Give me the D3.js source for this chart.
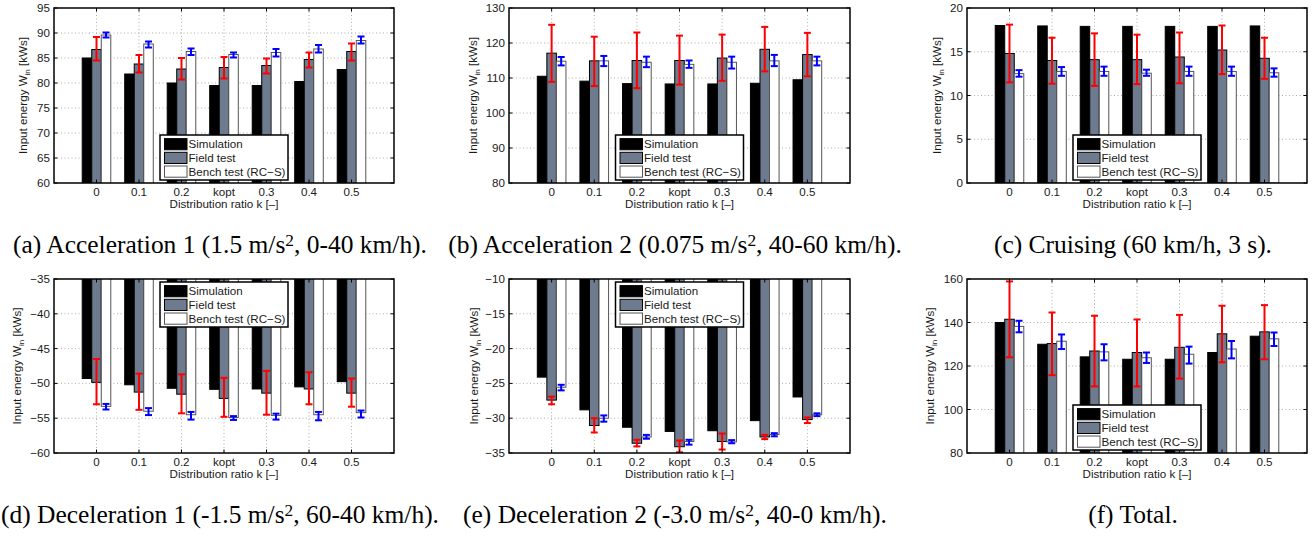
<!DOCTYPE html>
<html><head><meta charset="utf-8">
<script src="https://cdn.jsdelivr.net/npm/d3@7"></script>
<style>body{margin:0;background:#fff;} svg{display:block;}</style>
</head><body>
<svg id="chart" width="1316" height="537"></svg>
<script>
// ---------------- DATA ----------------
const categories = ["0","0.1","0.2","kopt","0.3","0.4","0.5"];
const seriesNames = ["Simulation","Field test","Bench test (RC\u2212S)"];

// (a) Acceleration 1
const simA = [85.0,81.8,80.0,79.5,79.5,80.3,82.7];
const fieldA = [86.7,83.8,82.8,83.1,83.5,84.7,86.3];
const fieldLoA = [84.5,82.1,80.7,80.9,81.9,83.1,84.5];
const fieldHiA = [89.2,85.6,85.0,85.2,84.9,86.1,87.9];
const benchA = [89.6,87.8,86.3,85.7,86.1,86.8,88.5];
const benchLoA = [89.1,87.1,85.6,85.1,85.3,86.1,87.9];
const benchHiA = [90.1,88.3,86.9,86.1,86.8,87.6,89.3];
const ticksA = [60,65,70,75,80,85,90,95];

// (b) Acceleration 2
const simB = [110.5,109.1,108.4,108.3,108.3,108.5,109.5];
const fieldB = [117.1,114.9,115.0,115.0,115.7,118.2,116.7];
const fieldLoB = [108.9,107.7,107.1,108.1,109.2,111.9,110.5];
const fieldHiB = [125.2,121.8,123.0,122.1,122.4,124.6,122.9];
const benchB = [114.8,114.9,114.5,113.9,114.5,114.9,114.9];
const benchLoB = [113.6,113.4,113.1,112.9,112.7,113.4,113.6];
const benchHiB = [116.0,116.3,116.1,115.0,116.1,116.6,116.1];
const ticksB = [80,90,100,110,120,130];

// (c) Cruising
const simC = [18.0,17.95,17.9,17.9,17.9,17.9,17.95];
const fieldC = [14.8,14.0,14.1,14.1,14.4,15.2,14.25];
const fieldLoC = [11.5,11.35,11.1,11.3,11.4,12.45,11.9];
const fieldHiC = [18.1,16.6,17.1,16.95,17.2,18.0,16.6];
const benchC = [12.5,12.75,12.75,12.55,12.75,12.75,12.6];
const benchLoC = [12.15,12.25,12.25,12.25,12.25,12.25,12.15];
const benchHiC = [12.9,13.25,13.3,12.95,13.3,13.3,13.1];
const ticksC = [0,5,10,15,20];

// (d) Deceleration 1
const simD = [-49.3,-50.2,-50.7,-50.85,-50.8,-50.5,-49.75];
const fieldD = [-49.85,-51.25,-51.55,-52.15,-51.4,-50.8,-51.4];
const fieldLoD = [-53.0,-53.8,-54.3,-54.8,-54.5,-53.0,-53.35];
const fieldHiD = [-46.5,-48.6,-48.7,-49.2,-48.2,-48.4,-49.3];
const benchD = [-53.3,-54.0,-54.5,-54.9,-54.6,-54.5,-54.2];
const benchLoD = [-53.75,-54.55,-55.2,-55.25,-55.2,-55.3,-54.9];
const benchHiD = [-52.95,-53.55,-54.1,-54.7,-54.35,-54.1,-53.9];
const ticksD = [-60,-55,-50,-45,-40,-35];

// (e) Deceleration 2
const simE = [-24.1,-28.8,-31.3,-31.9,-31.8,-30.35,-26.95];
const fieldE = [-27.4,-31.05,-33.6,-34.1,-33.35,-32.7,-30.2];
const fieldLoE = [-28.0,-32.05,-34.05,-34.9,-34.5,-33.0,-30.7];
const fieldHiE = [-26.9,-30.0,-33.1,-33.2,-32.2,-32.4,-29.9];
const benchE = [-25.55,-30.0,-32.7,-33.35,-33.4,-32.35,-29.5];
const benchLoE = [-26.0,-30.5,-32.95,-33.8,-33.6,-32.6,-29.7];
const benchHiE = [-25.2,-29.6,-32.4,-33.1,-33.15,-32.15,-29.3];
const ticksE = [-35,-30,-25,-20,-15,-10];

// (f) Total
const simF = [140.0,130.0,124.2,123.1,123.1,126.2,133.7];
const fieldF = [141.5,130.3,126.9,126.2,128.6,134.8,135.7];
const fieldLoF = [124.0,115.8,110.6,110.6,114.2,121.7,123.1];
const fieldHiF = [158.9,144.6,143.1,141.4,143.5,147.7,148.0];
const benchF = [138.2,131.4,126.5,123.8,125.4,127.8,132.5];
const benchLoF = [135.5,127.8,122.6,121.4,121.1,123.5,129.2];
const benchHiF = [140.8,134.5,130.0,126.2,128.9,131.5,135.4];
const ticksF = [80,100,120,140,160];

const captionsMain = [
  ["(a) Acceleration 1 (1.5 m/s","2",", 0-40 km/h)."],
  ["(b) Acceleration 2 (0.075 m/s","2",", 40-60 km/h)."],
  ["(c) Cruising (60 km/h, 3 s).","",""],
  ["(d) Deceleration 1 (-1.5 m/s","2",", 60-40 km/h)."],
  ["(e) Deceleration 2 (-3.0 m/s","2",", 40-0 km/h)."],
  ["(f) Total.","",""]
];
const xLabelText = "Distribution ratio k [\u2013]";

// ---------------- PANELS ----------------
const panelData = [
  {sim:simA, field:fieldA, fLo:fieldLoA, fHi:fieldHiA, bench:benchA, bLo:benchLoA, bHi:benchHiA, ticks:ticksA},
  {sim:simB, field:fieldB, fLo:fieldLoB, fHi:fieldHiB, bench:benchB, bLo:benchLoB, bHi:benchHiB, ticks:ticksB},
  {sim:simC, field:fieldC, fLo:fieldLoC, fHi:fieldHiC, bench:benchC, bLo:benchLoC, bHi:benchHiC, ticks:ticksC},
  {sim:simD, field:fieldD, fLo:fieldLoD, fHi:fieldHiD, bench:benchD, bLo:benchLoD, bHi:benchHiD, ticks:ticksD},
  {sim:simE, field:fieldE, fLo:fieldLoE, fHi:fieldHiE, bench:benchE, bLo:benchLoE, bHi:benchHiE, ticks:ticksE},
  {sim:simF, field:fieldF, fLo:fieldLoF, fHi:fieldHiF, bench:benchF, bLo:benchLoF, bHi:benchHiF, ticks:ticksF}
];

const layout = [
  {x0:54, x1:394, y0:8, y1:183, legend:"bottom", ylabOff:31, capX:220, capY:253},
  {x0:509,x1:850, y0:8, y1:183, legend:"bottom", ylabOff:36, capX:675, capY:253},
  {x0:967,x1:1307,y0:8, y1:183, legend:"bottom", ylabOff:30, capX:1133,capY:253},
  {x0:54, x1:394, y0:279,y1:453, legend:"top",   ylabOff:37, capX:220, capY:523},
  {x0:509,x1:850, y0:279,y1:453, legend:"top",   ylabOff:35, capX:675, capY:523},
  {x0:967,x1:1307,y0:279,y1:453, legend:"bottom",ylabOff:37, capX:1133,capY:523}
];

const fillColors = ["#000000","#6e7a8d","#ffffff"];
const strokeColors = ["#000000","#000000","#555555"];
const sansFont = "'Liberation Sans', Arial, Helvetica, sans-serif";
const serifFont = "'Liberation Serif', 'Times New Roman', serif";
const sansSize = 11.6;

const svg = d3.select("#chart");
const defs = svg.append("defs");

panelData.forEach((p, pi) => {
  const L = layout[pi];
  const g = svg.append("g");
  const x = d3.scaleLinear().domain([0, 8]).range([L.x0, L.x1]);
  const yDom = d3.extent(p.ticks);
  const y = d3.scaleLinear().domain(yDom).range([L.y1, L.y0]);
  const unit = x(1) - x(0);
  const bw = 0.224 * unit;
  const offs = [-0.224*unit, 0, 0.224*unit];

  defs.append("clipPath").attr("id","clip"+pi)
    .append("rect").attr("x",L.x0).attr("y",L.y0).attr("width",L.x1-L.x0).attr("height",L.y1-L.y0);

  // grid
  const grid = g.append("g").attr("stroke","#9a9a9a").attr("stroke-width",0.8).attr("stroke-dasharray","1,2.5");
  p.ticks.forEach(t => {
    if (t === yDom[0] || t === yDom[1]) return;
    grid.append("line").attr("x1",L.x0).attr("x2",L.x1).attr("y1",y(t)).attr("y2",y(t));
  });
  categories.forEach((c,i) => {
    grid.append("line").attr("x1",x(i+1)).attr("x2",x(i+1)).attr("y1",L.y0).attr("y2",L.y1);
  });

  // bars
  const barsG = g.append("g").attr("clip-path","url(#clip"+pi+")");
  const series = [p.sim, p.field, p.bench];
  const base = Math.max(L.y0 - 5, Math.min(L.y1 + 5, y(0)));
  series.forEach((vals, si) => {
    barsG.selectAll(null).data(vals).enter().append("rect")
      .attr("x",(d,i)=>x(i+1)+offs[si]-bw/2)
      .attr("width",bw)
      .attr("y",d=>Math.min(y(d),base))
      .attr("height",d=>Math.abs(y(d)-base))
      .attr("fill",fillColors[si])
      .attr("stroke",strokeColors[si])
      .attr("stroke-width",1);
  });

  // error bars
  const errs = [
    {lo:p.fLo, hi:p.fHi, off:offs[1], color:"#ff0000"},
    {lo:p.bLo, hi:p.bHi, off:offs[2], color:"#0000ff"}
  ];
  const errG = g.append("g").attr("clip-path","url(#clip"+pi+")");
  errs.forEach(e => {
    e.lo.forEach((lo,i) => {
      const cx = x(i+1)+e.off, hi = e.hi[i];
      const eg = errG.append("g").attr("stroke",e.color).attr("stroke-width",2);
      eg.append("line").attr("x1",cx).attr("x2",cx).attr("y1",y(lo)).attr("y2",y(hi));
      eg.append("line").attr("x1",cx-3.5).attr("x2",cx+3.5).attr("y1",y(lo)).attr("y2",y(lo));
      eg.append("line").attr("x1",cx-3.5).attr("x2",cx+3.5).attr("y1",y(hi)).attr("y2",y(hi));
    });
  });

  // axes box & ticks
  g.append("rect").attr("x",L.x0).attr("y",L.y0).attr("width",L.x1-L.x0).attr("height",L.y1-L.y0)
    .attr("fill","none").attr("stroke","#000").attr("stroke-width",1.5);
  const tk = g.append("g").attr("stroke","#000").attr("stroke-width",1);
  p.ticks.forEach(t => {
    tk.append("line").attr("x1",L.x0).attr("x2",L.x0+3.5).attr("y1",y(t)).attr("y2",y(t));
    tk.append("line").attr("x1",L.x1-3.5).attr("x2",L.x1).attr("y1",y(t)).attr("y2",y(t));
  });
  categories.forEach((c,i) => {
    tk.append("line").attr("x1",x(i+1)).attr("x2",x(i+1)).attr("y1",L.y1).attr("y2",L.y1-3.5);
    tk.append("line").attr("x1",x(i+1)).attr("x2",x(i+1)).attr("y1",L.y0).attr("y2",L.y0+3.5);
  });

  // tick labels
  const fmt = d3.format("d");
  g.append("g").selectAll("text").data(p.ticks).enter().append("text")
    .attr("x",L.x0-4).attr("y",d=>y(d)).attr("dy","0.35em")
    .attr("text-anchor","end").attr("font-family",sansFont).attr("font-size",sansSize).attr("fill","#1a1a1a")
    .text(d=>fmt(d));
  g.append("g").selectAll("text").data(categories).enter().append("text")
    .attr("x",(d,i)=>x(i+1)).attr("y",L.y1+13)
    .attr("text-anchor","middle").attr("font-family",sansFont).attr("font-size",sansSize).attr("fill","#1a1a1a")
    .text(d=>d);
  g.append("text").attr("x",(L.x0+L.x1)/2).attr("y",L.y1+25)
    .attr("text-anchor","middle").attr("font-family",sansFont).attr("font-size",sansSize).attr("fill","#1a1a1a")
    .text(xLabelText);

  // y label
  const yl = L.x0 - L.ylabOff, yc = (L.y0+L.y1)/2;
  const ylt = g.append("text").attr("transform",`translate(${yl},${yc}) rotate(-90)`)
    .attr("text-anchor","middle").attr("dy","0.35em")
    .attr("font-family",sansFont).attr("font-size",sansSize).attr("fill","#1a1a1a");
  ylt.append("tspan").text("Input energy W");
  ylt.append("tspan").attr("font-size",8).attr("dy",3).text("in");
  ylt.append("tspan").attr("dy",-3).text(" [kWs]");

  // legend
  const lw = 128, lh = 45;
  const lx = (L.x0+L.x1)/2 - lw/2;
  const ly = L.legend === "bottom" ? L.y1 - 3 - lh : L.y0 + 3;
  const lg = g.append("g");
  lg.append("rect").attr("x",lx).attr("y",ly).attr("width",lw).attr("height",lh)
    .attr("fill","#fff").attr("stroke","#000").attr("stroke-width",1.5);
  seriesNames.forEach((n,si) => {
    const cy = ly + 9.2 + si*13.7;
    lg.append("rect").attr("x",lx+4.5).attr("y",cy-5.6).attr("width",22.5).attr("height",11.2)
      .attr("fill",fillColors[si]).attr("stroke",strokeColors[si]).attr("stroke-width",1);
    const tx = lg.append("text").attr("x",lx+28.5).attr("y",cy).attr("dy","0.35em")
      .attr("font-family",sansFont).attr("font-size",sansSize).attr("fill","#1a1a1a").text(n);
    const maxW = lw - 31;
    if (tx.node().getComputedTextLength() > maxW) {
      tx.attr("textLength", maxW).attr("lengthAdjust","spacingAndGlyphs");
    }
  });
});

// captions
const capTexts = [];
captionsMain.forEach((parts, i) => {
  const L = layout[i];
  const t = svg.append("text").attr("x",L.capX).attr("y",L.capY)
    .attr("text-anchor","middle").attr("font-family",serifFont).attr("font-size",18).attr("fill","#000");
  t.append("tspan").text(parts[0]);
  if (parts[1]) {
    t.append("tspan").attr("class","sup").attr("font-size",12).attr("dy",-7).text(parts[1]);
    t.append("tspan").attr("dy",7).text(parts[2]);
  }
  capTexts.push(t);
});
// scale caption font so that caption (a) spans ~414px like the reference
const wA = capTexts[0].node().getComputedTextLength();
const fs = 18 * 414 / wA;
capTexts.forEach(t => {
  t.attr("font-size", fs);
  t.selectAll("tspan.sup").attr("font-size", fs*0.68);
});
</script>
</body></html>
